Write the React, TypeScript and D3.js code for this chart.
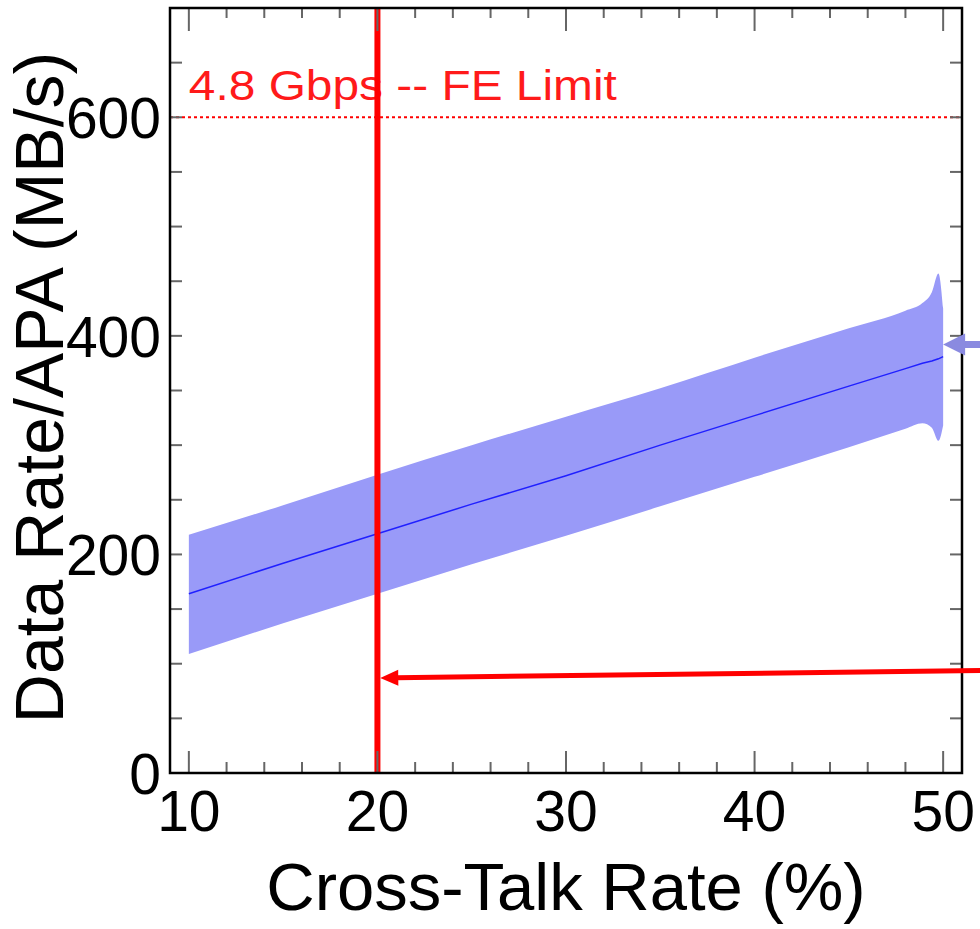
import React from "react";
import * as d3 from "d3";

// cross-talk rate (%) sampled along the band
const crossTalk = [10, 15, 20, 25, 30, 35, 40, 45, 48, 48.9, 49.4, 49.75, 50];
// mean data rate per APA (MB/s)
const meanRate = [164, 192, 219, 246, 272, 300, 327, 354, 370, 375, 377, 379, 381];
// band edges
const upperRate = [218, 245, 273, 300, 326, 352, 380, 407, 423, 430, 440, 457, 425];
const lowerRate = [109, 137, 164, 191, 217, 244, 271, 298, 315, 320, 316, 304, 318];

const xTicksMajor = [10, 20, 30, 40, 50];
const yTickLabels = [0, 200, 400, 600];

const feLimit = 600;
const feLimitLabel = "4.8 Gbps -- FE Limit";
const chosenRate = 20;
const redArrow = [[53, 94], [20.15, 87]];
const blueArrow = [[53, 392], [50, 392]];

const W = 980;
const H = 929;
const font = "'Liberation Sans', Arial, Helvetica, sans-serif";

function arrowShape(x0: number, y0: number, x1: number, y1: number, headLen: number, headHalf: number) {
  const dx = x1 - x0, dy = y1 - y0;
  const len = Math.sqrt(dx * dx + dy * dy);
  const ux = dx / len, uy = dy / len;
  const bx = x1 - ux * headLen, by = y1 - uy * headLen;
  const px = -uy, py = ux;
  return {
    shaft: [x0, y0, bx + ux * 2, by + uy * 2],
    head: `${x1},${y1} ${bx + px * headHalf},${by + py * headHalf} ${bx - px * headHalf},${by - py * headHalf}`,
  };
}

export default function App() {
  const x = d3.scaleLinear().domain([9, 51]).range([170, 962]);
  const y = d3.scaleLinear().domain([0, 700]).range([773, 8]);

  const idx = d3.range(crossTalk.length);
  const area = d3.area<number>()
    .x(i => x(crossTalk[i]))
    .y0(i => y(lowerRate[i]))
    .y1(i => y(upperRate[i]))
    .curve(d3.curveMonotoneX);
  const line = d3.line<number>()
    .x(i => x(crossTalk[i]))
    .y(i => y(meanRate[i]));

  const xMinor = d3.range(10, 51, 2);
  const yMinor = d3.range(0, 701, 50);

  const ra = arrowShape(x(redArrow[0][0]), y(redArrow[0][1]), x(redArrow[1][0]), y(redArrow[1][1]), 18, 8);
  const ba = arrowShape(x(blueArrow[0][0]), y(blueArrow[0][1]), x(blueArrow[1][0]), y(blueArrow[1][1]), 22, 11);

  const [x0, x1] = x.range();
  const [y0, y1] = y.range();

  return (
    <svg width={W} height={H} style={{ position: "absolute", left: 0, top: 0, display: "block" }}
      fontFamily={font}>
      <rect width={W} height={H} fill="#fff" />

      {/* uncertainty band and mean */}
      <path d={area(idx) || ""} fill="#999af8" />
      <path d={line(idx) || ""} fill="none" stroke="#2020ff" strokeWidth={1.5} />

      {/* FE limit */}
      <line x1={x0} x2={x1} y1={y(feLimit)} y2={y(feLimit)} stroke="#ff0000" strokeWidth={2}
        strokeDasharray="3,3" />
      <text x={x(10)} y={y(feLimit) - 17} fill="#ff1a1a" fontSize={43} textLength={428}
        lengthAdjust="spacingAndGlyphs">{feLimitLabel}</text>

      {/* chosen cross-talk rate */}
      <line x1={x(chosenRate)} x2={x(chosenRate)} y1={y1} y2={y0} stroke="#ff0000" strokeWidth={6} />

      {/* ticks */}
      {xMinor.map(t => {
        const major = t % 10 === 0;
        const len = major ? 22 : 11;
        return (
          <g key={"xt" + t} stroke="#666" strokeWidth={2}>
            <line x1={x(t)} x2={x(t)} y1={y0} y2={y0 - len} />
            <line x1={x(t)} x2={x(t)} y1={y1} y2={y1 + (major ? 23 : 10)} />
          </g>
        );
      })}
      {yMinor.map(t => (
        <g key={"yt" + t} stroke="#666" strokeWidth={2}>
          <line x1={x0} x2={x0 + 12} y1={y(t)} y2={y(t)} />
          <line x1={x1} x2={x1 - 12} y1={y(t)} y2={y(t)} />
        </g>
      ))}

      {/* frame */}
      <rect x={x0} y={y1} width={x1 - x0} height={y0 - y1} fill="none" stroke="#000" strokeWidth={2.5} />

      {/* arrows */}
      <line x1={ra.shaft[0]} y1={ra.shaft[1]} x2={ra.shaft[2]} y2={ra.shaft[3]} stroke="#ff0000" strokeWidth={5} />
      <polygon points={ra.head} fill="#ff0000" />
      <line x1={ba.shaft[0]} y1={ba.shaft[1]} x2={ba.shaft[2]} y2={ba.shaft[3]} stroke="#8a8ae0" strokeWidth={7} />
      <polygon points={ba.head} fill="#8a8ae0" />

      {/* tick labels */}
      {xTicksMajor.map(t => (
        <text key={"xl" + t} x={x(t)} y={831} textAnchor="middle" fontSize={57} fill="#000">{t}</text>
      ))}
      {yTickLabels.map(t => (
        <text key={"yl" + t} x={161} y={y(t) + 21} textAnchor="end" fontSize={57} fill="#000">{t}</text>
      ))}

      {/* axis titles */}
      <text x={(x0 + x1) / 2} y={910} textAnchor="middle" fontSize={67} fill="#000">Cross-Talk Rate (%)</text>
      <text transform={`translate(63,${(y0 + y1) / 2 - 3}) rotate(-90)`} textAnchor="middle" fontSize={68}
        fill="#000">Data Rate/APA (MB/s)</text>
    </svg>
  );
}
